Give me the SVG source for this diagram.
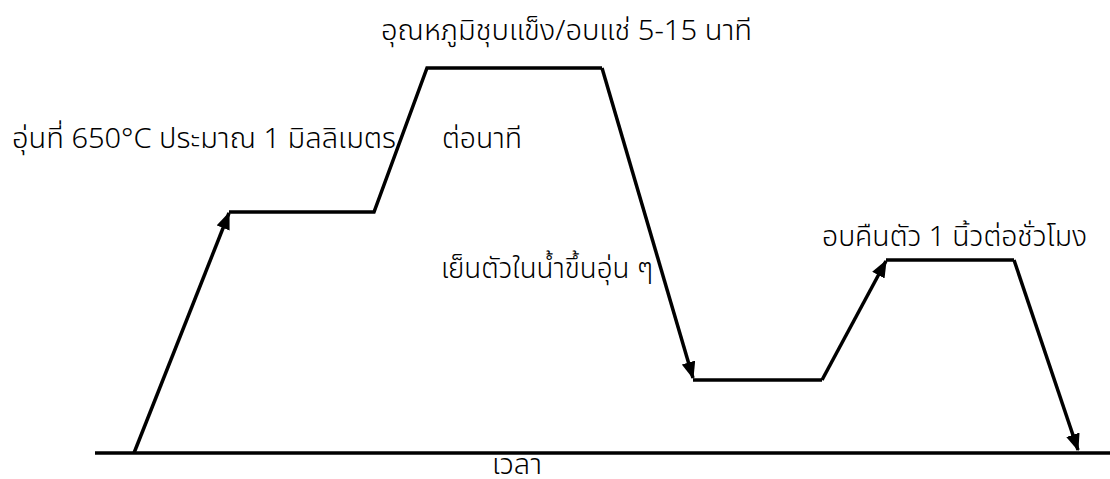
<svg xmlns="http://www.w3.org/2000/svg" width="1110" height="479" viewBox="0 0 1110 479">
<style>
.t{font-family:"Noto Sans Thai","Leelawadee UI","Tahoma","Noto Sans",sans-serif;font-size:28px;font-weight:300;fill:#000}
.ln{stroke:#000;stroke-width:3.5;fill:none}
</style>
<defs>
<marker id="ah" markerWidth="5" markerHeight="4" refX="4.6" refY="2" orient="auto" markerUnits="strokeWidth">
<path d="M0,0 L5,2 L0,4 Z" fill="#000"/>
</marker>
</defs>
<rect width="1110" height="479" fill="#fff"/>
<g id="connectors">
<line class="ln" x1="95" y1="453" x2="1110" y2="453"/>
<line class="ln" x1="134" y1="453" x2="229" y2="213" marker-end="url(#ah)"/>
<polyline class="ln" points="229,212 374,212 427,68 602,68"/>
<line class="ln" x1="602" y1="68" x2="693" y2="378" marker-end="url(#ah)"/>
<polyline class="ln" points="693,380 822,380"/>
<line class="ln" x1="822" y1="380" x2="886" y2="261" marker-end="url(#ah)"/>
<polyline class="ln" points="886,260 1014,260"/>
<line class="ln" x1="1014" y1="260" x2="1078" y2="450" marker-end="url(#ah)"/>
</g>
<g id="label-top"><text class="t" x="381" y="40" textLength="371" lengthAdjust="spacingAndGlyphs">อุณหภูมิชุบแข็ง/อบแช่ 5-15 นาที</text></g>
<g id="label-heat"><text class="t" x="12" y="148" textLength="384" lengthAdjust="spacingAndGlyphs">อุ่นที่ 650°C ประมาณ 1 มิลลิเมตร</text></g>
<g id="label-permin"><text class="t" x="442" y="148" textLength="80" lengthAdjust="spacingAndGlyphs">ต่อนาที</text></g>
<g id="label-cool"><text class="t" x="441" y="278" textLength="212" lengthAdjust="spacingAndGlyphs">เย็นตัวในน้ำขึ้นอุ่น ๆ</text></g>
<g id="label-temper"><text class="t" x="822" y="246" textLength="265" lengthAdjust="spacingAndGlyphs">อบคืนตัว 1 นิ้วต่อชั่วโมง</text></g>
<g id="label-time"><text class="t" x="492" y="474" font-size="26" textLength="50" lengthAdjust="spacingAndGlyphs">เวลา</text></g>
</svg>
